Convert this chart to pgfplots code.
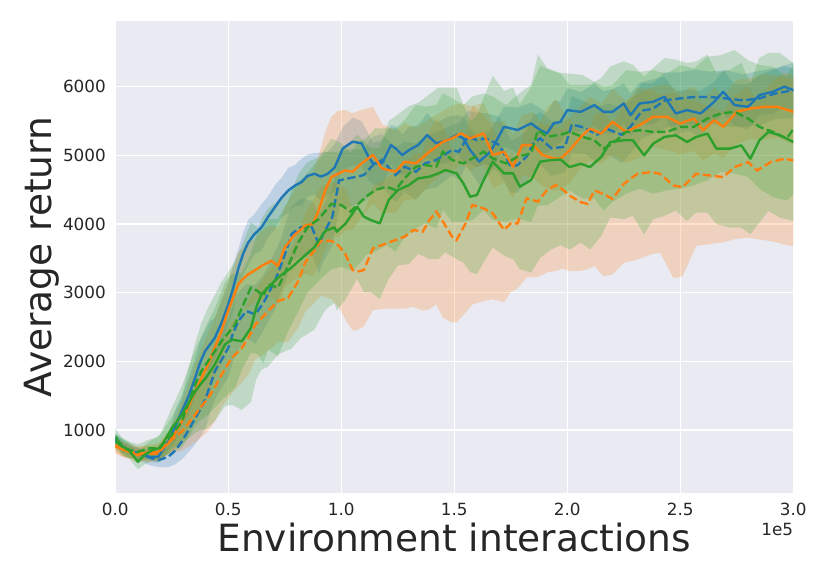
\documentclass[border=0pt]{standalone}
\usepackage{fontspec}
\setmainfont{DejaVu Sans}
\usepackage{pgfplots}
\usepackage{pgfplotstable}
\pgfplotsset{compat=1.18}
\usepgfplotslibrary{fillbetween}
\definecolor{cB}{HTML}{1F77B4}
\definecolor{cO}{HTML}{FF7F0E}
\definecolor{cG}{HTML}{2CA02C}
\definecolor{bgc}{HTML}{EAEAF2}
\definecolor{txt}{HTML}{262626}

\pgfplotstableread{
x y lo hi
0.00 880 810 950
0.03 760 680 840
0.06 707 647 767
0.10 660 580 740
0.15 610 550 670
0.19 610 520 700
0.235 830 710 950
0.265 1050 830 1270
0.294 1270 1070 1470
0.325 1500 1240 1760
0.353 1756 1476 2036
0.375 1980 1660 2300
0.397 2146 1846 2446
0.42 2250 1910 2590
0.44 2340 2050 2630
0.47 2560 2240 2880
0.50 2830 2530 3130
0.52 3050 2700 3400
0.544 3350 3070 3630
0.565 3560 3250 3870
0.588 3730 3400 4060
0.615 3850 3560 4140
0.647 3951 3611 4291
0.675 4100 3800 4400
0.706 4244 3924 4564
0.735 4380 4090 4670
0.765 4488 4158 4818
0.795 4560 4260 4860
0.824 4610 4270 4950
0.85 4700 4390 5010
0.882 4732 4432 5032
0.91 4690 4340 5040
0.94 4732 4412 5052
0.97 4820 4480 5160
1.007 5102 4792 5412
1.05 5199 4849 5549
1.09 5175 4855 5495
1.12 4981 4641 5321
1.14 4883 4583 5183
1.18 4883 4553 5213
1.22 5150 4860 5440
1.24 5102 4782 5422
1.27 5005 4705 5305
1.30 5078 4748 5408
1.34 5150 4860 5440
1.38 5296 4976 5616
1.42 5175 4875 5475
1.47 5223 4883 5563
1.51 5296 5006 5586
1.54 5248 4928 5568
1.57 5078 4778 5378
1.61 4908 4568 5248
1.66 5053 4743 5363
1.72 5417 5127 5707
1.78 5369 5039 5699
1.84 5466 5166 5766
1.88 5369 5049 5689
1.91 5320 5030 5610
1.94 5466 5136 5796
1.97 5488 5188 5788
2.00 5659 5339 5979
2.06 5634 5344 5924
2.12 5732 5422 6042
2.16 5634 5334 5934
2.20 5634 5304 5964
2.25 5756 5466 6046
2.28 5585 5265 5905
2.32 5756 5456 6056
2.38 5780 5450 6110
2.43 5854 5564 6144
2.48 5610 5290 5930
2.53 5659 5359 5959
2.59 5610 5280 5940
2.65 5780 5490 6070
2.69 5927 5617 6237
2.74 5732 5432 6032
2.80 5707 5377 6037
2.85 5878 5588 6168
2.91 5927 5607 6247
2.96 6000 5700 6300
3.00 5951 5641 6261
}\bs

\pgfplotstableread{
x y lo hi
0.00 850 760 940
0.05 720 620 820
0.10 660 570 750
0.15 600 490 710
0.19 560 460 660
0.235 610 460 760
0.265 700 500 900
0.294 830 570 1090
0.325 1000 680 1320
0.353 1170 790 1550
0.38 1320 920 1720
0.40 1463 1033 1893
0.42 1650 1260 2040
0.44 1854 1434 2274
0.47 2020 1620 2420
0.50 2195 1755 2635
0.52 2400 2000 2800
0.544 2585 2165 3005
0.58 2732 2342 3122
0.62 2683 2253 3113
0.66 2878 2478 3278
0.706 3171 2751 3591
0.735 3415 3025 3805
0.76 3650 3220 4080
0.78 3854 3454 4254
0.82 3951 3531 4371
0.87 3951 3561 4341
0.90 3707 3277 4137
0.92 3854 3454 4254
0.96 4098 3678 4518
0.99 4634 4244 5024
1.03 4665 4245 5085
1.07 4689 4289 5089
1.10 4714 4334 5094
1.14 4859 4449 5269
1.18 4932 4552 5312
1.24 4714 4314 5114
1.28 4835 4465 5205
1.33 4762 4352 5172
1.37 4883 4503 5263
1.42 4932 4532 5332
1.49 5078 4708 5448
1.52 5053 4643 5463
1.56 5272 4892 5652
1.60 5223 4823 5623
1.64 5248 4878 5618
1.70 5150 4740 5560
1.75 4835 4455 5215
1.78 4859 4459 5259
1.82 4981 4611 5351
1.85 5175 4765 5585
1.88 5248 4868 5628
1.93 5102 4702 5502
1.99 5126 4756 5496
2.02 5450 5040 5860
2.08 5400 5020 5780
2.13 5300 4900 5700
2.18 5380 5010 5750
2.24 5300 4890 5710
2.28 5420 5040 5800
2.33 5650 5250 6050
2.38 5680 5310 6050
2.43 5800 5390 6210
2.50 5830 5450 6210
2.56 5850 5450 6250
2.63 5850 5480 6220
2.70 5830 5420 6240
2.78 5800 5420 6180
2.85 5830 5430 6230
2.92 5900 5530 6270
3.00 5950 5550 6350
}\bd

\pgfplotstableread{
x y lo hi
0.00 780 680 880
0.03 720 610 830
0.06 683 593 773
0.10 634 524 744
0.15 683 583 783
0.19 683 563 803
0.235 805 645 965
0.265 950 730 1170
0.294 1122 842 1402
0.325 1350 1010 1690
0.353 1561 1161 1961
0.38 1750 1320 2180
0.41 1951 1491 2411
0.44 2200 1770 2630
0.47 2439 1969 2909
0.49 2650 2210 3090
0.51 2830 2370 3290
0.53 3000 2570 3430
0.544 3122 2652 3592
0.565 3200 2750 3650
0.588 3268 2788 3748
0.62 3330 2880 3780
0.647 3390 2890 3890
0.69 3463 2943 3983
0.72 3390 2830 3950
0.75 3659 3079 4239
0.79 3829 3189 4469
0.84 3976 3276 4676
0.875 4000 3240 4760
0.90 4200 3400 5000
0.93 4500 3650 5350
0.956 4683 3803 5563
0.985 4730 3810 5650
1.015 4780 3900 5660
1.05 4762 3912 5612
1.09 4883 4103 5663
1.14 5005 4305 5705
1.18 4810 4160 5460
1.24 4762 4162 5362
1.28 4908 4348 5468
1.33 4883 4363 5403
1.39 5053 4573 5533
1.45 5199 4749 5649
1.49 5248 4768 5728
1.53 5320 4880 5760
1.57 5248 4778 5718
1.63 5320 4880 5760
1.67 5005 4525 5485
1.72 5053 4603 5503
1.76 4835 4365 5305
1.80 5150 4710 5590
1.85 5150 4670 5630
1.89 5005 4555 5455
1.94 4956 4486 5426
1.97 4950 4510 5390
2.01 5073 4593 5553
2.06 5268 4818 5718
2.10 5390 4920 5860
2.15 5317 4877 5757
2.20 5488 5008 5968
2.26 5341 4891 5791
2.32 5439 4969 5909
2.38 5561 5121 6001
2.44 5561 5081 6041
2.50 5463 5013 5913
2.56 5537 5067 6007
2.60 5366 4926 5806
2.65 5512 5032 5992
2.69 5415 4965 5865
2.75 5634 5164 6104
2.81 5683 5243 6123
2.87 5707 5227 6187
2.93 5707 5257 6157
3.00 5634 5164 6104
}\os

\pgfplotstableread{
x y lo hi
0.00 760 660 860
0.05 700 590 810
0.10 660 560 760
0.15 650 530 770
0.19 660 550 770
0.235 820 660 980
0.265 900 680 1120
0.294 975 695 1255
0.325 1100 760 1440
0.353 1220 820 1620
0.38 1340 890 1790
0.41 1463 983 1943
0.44 1620 1120 2120
0.47 1805 1325 2285
0.515 2049 1529 2569
0.56 2195 1695 2695
0.59 2350 1810 2890
0.62 2537 2027 3047
0.65 2640 2090 3190
0.676 2732 2152 3312
0.72 2878 2278 3478
0.765 2927 2287 3567
0.81 3171 2491 3851
0.84 3439 2719 4159
0.88 3610 2850 4370
0.91 3756 2956 4556
0.956 3756 2906 4606
0.99 3680 2780 4580
1.02 3549 2599 4499
1.05 3330 2450 4210
1.07 3306 2456 4156
1.10 3330 2510 4150
1.14 3646 2746 4546
1.20 3718 2768 4668
1.24 3767 2767 4767
1.28 3816 2766 4866
1.32 3913 2793 5033
1.36 3889 2739 5039
1.39 4058 2758 5358
1.42 4180 2830 5530
1.45 4034 2634 5434
1.49 3816 2566 5066
1.51 3767 2567 4967
1.55 4010 2710 5310
1.58 4277 2827 5727
1.63 4228 2878 5578
1.67 4155 2905 5405
1.72 3913 2863 4963
1.75 4010 3010 5010
1.78 4010 3060 4960
1.82 4374 3224 5524
1.87 4325 3225 5425
1.91 4495 3295 5695
1.95 4568 3318 5818
1.98 4500 3350 5650
2.01 4415 3315 5515
2.06 4317 3317 5317
2.09 4293 3343 5243
2.12 4488 3388 5588
2.16 4439 3239 5639
2.20 4366 3266 5466
2.25 4585 3435 5735
2.31 4732 3482 5982
2.37 4756 3556 5956
2.41 4732 3582 5882
2.47 4561 3211 5911
2.51 4537 3237 5837
2.57 4732 3682 5782
2.63 4707 3707 5707
2.69 4683 3733 5633
2.74 4829 3779 5879
2.80 4902 3802 6002
2.84 4780 3780 5780
2.90 4902 3752 6052
2.96 4951 3701 6201
3.00 4927 3677 6177
}\od

\pgfplotstableread{
x y lo hi
0.00 900 780 1020
0.03 760 630 890
0.06 707 587 827
0.10 537 427 647
0.13 640 500 780
0.16 700 550 850
0.20 740 540 940
0.25 1024 724 1324
0.294 1220 800 1640
0.325 1400 880 1920
0.353 1561 961 2161
0.38 1680 1000 2360
0.40 1756 1006 2506
0.44 1951 1131 2771
0.485 2244 1344 3144
0.515 2317 1367 3267
0.56 2293 1293 3293
0.60 2488 1408 3568
0.625 2800 1750 3850
0.647 2976 1876 4076
0.676 3073 1923 4223
0.72 3220 2100 4340
0.78 3366 2186 4546
0.82 3488 2338 4638
0.88 3659 2459 4859
0.93 3902 2752 5052
0.97 3951 2851 5051
0.98 3888 2738 5038
1.02 4010 2910 5110
1.07 4252 3202 5302
1.10 4107 3007 5207
1.13 4058 3008 5108
1.17 4010 2910 5110
1.21 4350 3200 5500
1.25 4495 3395 5595
1.30 4568 3418 5718
1.34 4665 3565 5765
1.39 4689 3489 5889
1.43 4738 3488 5988
1.46 4786 3586 5986
1.51 4738 3488 5988
1.54 4592 3442 5742
1.57 4398 3298 5498
1.60 4422 3272 5572
1.63 4641 3441 5841
1.67 4908 3658 6158
1.72 4738 3538 5938
1.76 4738 3488 5988
1.79 4544 3344 5744
1.84 4641 3291 5991
1.88 4908 3508 6308
1.93 4932 3632 6232
1.97 4940 3690 6190
2.01 4829 3629 6029
2.06 4878 3728 6028
2.10 4829 3629 6029
2.15 4976 3826 6126
2.19 5195 4095 6295
2.25 5220 4070 6370
2.29 5220 4120 6320
2.34 5000 3850 6150
2.38 5171 4071 6271
2.43 5268 4118 6418
2.48 5293 4193 6393
2.53 5195 4045 6345
2.57 5268 4168 6368
2.62 5317 4167 6467
2.66 5098 3998 6198
2.72 5098 3948 6248
2.77 5146 3946 6346
2.81 4951 3851 6051
2.85 5220 4020 6420
2.89 5341 4191 6491
2.94 5293 4093 6493
3.00 5195 4045 6345
}\gs

\pgfplotstableread{
x y lo hi
0.00 830 720 940
0.05 720 600 840
0.10 683 573 793
0.15 732 602 862
0.19 732 572 892
0.25 927 667 1187
0.294 1122 742 1502
0.325 1400 900 1900
0.353 1659 1059 2259
0.38 1850 1150 2550
0.41 2000 1220 2780
0.47 2293 1433 3153
0.53 2537 1617 3457
0.56 2780 1880 3680
0.60 3073 2123 4023
0.63 3024 2104 3944
0.655 2951 1971 3931
0.676 3122 2172 4072
0.72 3073 2073 4073
0.765 3390 2440 4340
0.81 3732 2732 4732
0.85 3951 3001 4901
0.90 4073 3173 4973
0.956 4293 3343 5243
1.00 4277 3377 5177
1.04 4180 3330 5030
1.07 4277 3377 5177
1.11 4398 3548 5248
1.15 4495 3595 5395
1.20 4544 3694 5394
1.24 4495 3595 5395
1.28 4665 3815 5515
1.33 4835 3935 5735
1.37 4859 4009 5709
1.42 4835 3935 5735
1.45 5053 4203 5903
1.49 4932 4032 5832
1.54 4883 4033 5733
1.58 4956 4056 5856
1.63 5053 4203 5903
1.67 4956 4056 5856
1.73 4883 4033 5733
1.78 4981 4081 5881
1.84 5029 4029 6029
1.87 5369 4269 6469
1.91 5272 4272 6272
1.97 5300 4400 6200
2.01 5341 4491 6191
2.07 5268 4368 6168
2.12 5220 4370 6070
2.16 5098 4198 5998
2.20 5171 4321 6021
2.26 5341 4441 6241
2.32 5366 4516 6216
2.38 5341 4441 6241
2.44 5341 4491 6191
2.50 5415 4515 6315
2.56 5415 4565 6265
2.62 5537 4637 6437
2.68 5610 4760 6460
2.74 5634 4734 6534
2.80 5537 4687 6387
2.85 5415 4515 6315
2.91 5341 4391 6291
2.97 5244 4344 6144
3.00 5380 4430 6330
}\gd

\begin{document}
\begin{tikzpicture}
\begin{axis}[
  name=ax,
  scale only axis,
  width=678pt, height=472.3pt,
  xmin=0, xmax=3, ymin=78, ymax=6957,
  axis background/.style={fill=bgc},
  axis line style={draw=none},
  major tick length=0pt,
  xtick={0,0.5,1,1.5,2,2.5,3},
  ytick={1000,2000,3000,4000,5000,6000},
  xticklabels={0.0,0.5,1.0,1.5,2.0,2.5,3.0},
  grid=major,
  grid style={white, line width=1.3pt},
  /pgf/number format/assume math mode=true,
  /pgf/number format/.cd, set thousands separator={}, /pgfplots/.cd,
  ticklabel style={font=\fontsize{16.8}{20}\selectfont, text=txt},
  yticklabel style={anchor=east, inner sep=0pt, xshift=-9.3pt},
  xticklabel style={anchor=base, inner sep=0pt, yshift=-22pt},
  xlabel={Environment interactions},
  ylabel={Average return},
  label style={font=\fontsize{37.5}{44}\selectfont, text=txt},
  xlabel style={at={(axis description cs:0.5,-0.1237)}, anchor=base},
  ylabel style={at={(axis description cs:-0.0934,0.5)}, anchor=base},
  clip=true,
]
% bands
\addplot[draw=none, name path=bsU, forget plot] table[x=x,y=hi]{\bs};
\addplot[draw=none, name path=bsL, forget plot] table[x=x,y=lo]{\bs};
\addplot[fill=cB, fill opacity=0.22, draw=none, forget plot] fill between[of=bsU and bsL];
\addplot[draw=none, name path=bdU, forget plot] table[x=x,y=hi]{\bd};
\addplot[draw=none, name path=bdL, forget plot] table[x=x,y=lo]{\bd};
\addplot[fill=cB, fill opacity=0.22, draw=none, forget plot] fill between[of=bdU and bdL];
\addplot[draw=none, name path=osU, forget plot] table[x=x,y=hi]{\os};
\addplot[draw=none, name path=osL, forget plot] table[x=x,y=lo]{\os};
\addplot[fill=cO, fill opacity=0.22, draw=none, forget plot] fill between[of=osU and osL];
\addplot[draw=none, name path=odU, forget plot] table[x=x,y=hi]{\od};
\addplot[draw=none, name path=odL, forget plot] table[x=x,y=lo]{\od};
\addplot[fill=cO, fill opacity=0.22, draw=none, forget plot] fill between[of=odU and odL];
\addplot[draw=none, name path=gsU, forget plot] table[x=x,y=hi]{\gs};
\addplot[draw=none, name path=gsL, forget plot] table[x=x,y=lo]{\gs};
\addplot[fill=cG, fill opacity=0.22, draw=none, forget plot] fill between[of=gsU and gsL];
\addplot[draw=none, name path=gdU, forget plot] table[x=x,y=hi]{\gd};
\addplot[draw=none, name path=gdL, forget plot] table[x=x,y=lo]{\gd};
\addplot[fill=cG, fill opacity=0.22, draw=none, forget plot] fill between[of=gdU and gdL];
% lines
\addplot[cB, line width=2.4pt, line join=round] table[x=x,y=y]{\bs};
\addplot[cB, line width=2.4pt, dash pattern=on 8.3pt off 3.6pt] table[x=x,y=y]{\bd};
\addplot[cO, line width=2.4pt, line join=round] table[x=x,y=y]{\os};
\addplot[cO, line width=2.4pt, dash pattern=on 8.3pt off 3.6pt] table[x=x,y=y]{\od};
\addplot[cG, line width=2.4pt, line join=round] table[x=x,y=y]{\gs};
\addplot[cG, line width=2.4pt, dash pattern=on 8.3pt off 3.6pt] table[x=x,y=y]{\gd};
\end{axis}
\node[anchor=base east, inner sep=0pt, font=\fontsize{16.8}{20}\selectfont, text=txt] at ([yshift=-41.7pt]ax.south east) {1e5};
\pgfresetboundingbox
\path[use as bounding box] (-115.3pt,-87.7pt) rectangle (714.7pt,493.3pt);
\end{tikzpicture}
\end{document}
